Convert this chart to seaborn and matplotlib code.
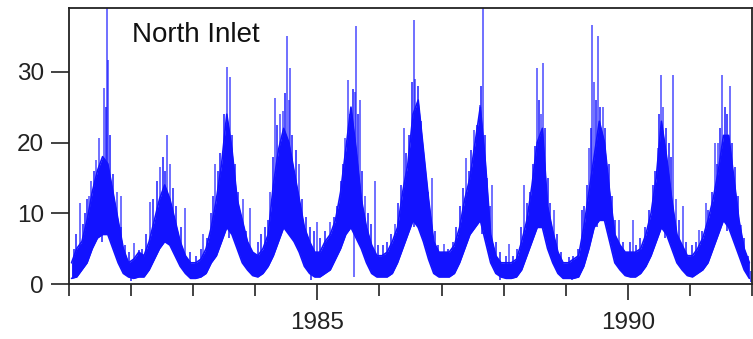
import numpy as np
import pandas as pd
import matplotlib
matplotlib.use("Agg")
import matplotlib.pyplot as plt
from matplotlib.ticker import MultipleLocator
import seaborn as sns

station = "North Inlet"
years = list(range(1981, 1992))

# monthly lower / upper envelope of the daily record (one row per year, Jan..Dec)
low = [
    0.8, 1.0, 2.0, 3.0, 5.0, 6.5, 7.0, 7.0, 5.0, 3.0, 1.5, 1.0,   # 1981
    0.8, 1.0, 1.0, 2.0, 3.5, 5.0, 6.0, 5.5, 4.0, 2.5, 1.5, 0.8,   # 1982
    0.8, 1.0, 1.5, 3.0, 4.0, 6.0, 8.0, 7.0, 5.0, 3.0, 2.0, 1.2,   # 1983
    1.0, 1.5, 2.5, 4.0, 6.0, 8.0, 7.0, 6.0, 4.5, 2.5, 1.5, 1.0,   # 1984
    1.0, 1.5, 2.0, 3.5, 5.0, 7.0, 8.0, 6.5, 5.0, 3.0, 1.5, 1.0,   # 1985
    1.0, 1.0, 1.5, 3.0, 5.0, 7.0, 9.0, 8.0, 6.0, 3.5, 1.5, 1.0,   # 1986
    1.0, 1.0, 1.5, 3.0, 5.0, 7.0, 8.0, 9.0, 6.0, 3.0, 1.5, 1.0,   # 1987
    0.8, 0.8, 1.0, 2.0, 4.0, 6.0, 8.0, 8.0, 5.0, 3.0, 1.5, 0.8,   # 1988
    0.8, 0.8, 1.0, 2.5, 5.0, 8.0, 9.0, 9.0, 6.0, 3.0, 2.0, 1.2,   # 1989
    1.0, 1.0, 1.5, 2.5, 4.0, 6.0, 8.0, 7.0, 5.0, 3.0, 2.0, 1.2,   # 1990
    1.0, 1.5, 2.0, 3.0, 5.0, 7.0, 9.0, 8.0, 6.0, 4.0, 2.0, 0.8,   # 1991
]
high = [
    3.0, 5.0, 6.0, 9.0, 13.0, 16.0, 18.0, 17.0, 13.0, 9.0, 5.0, 3.0,    # 1981
    3.5, 4.5, 4.0, 6.0, 9.0, 12.0, 14.0, 12.0, 9.0, 6.0, 4.0, 3.0,      # 1982
    3.0, 3.5, 5.0, 8.0, 12.0, 17.0, 24.0, 19.0, 12.0, 9.0, 6.0, 4.5,    # 1983
    4.0, 5.0, 7.0, 14.0, 19.0, 22.0, 20.0, 16.0, 12.0, 8.0, 6.0, 4.5,   # 1984
    4.5, 6.0, 7.0, 9.0, 13.0, 19.0, 25.0, 19.0, 12.0, 8.0, 5.5, 4.0,    # 1985
    4.0, 4.5, 6.0, 8.0, 13.0, 17.0, 24.0, 26.0, 19.0, 12.0, 6.0, 4.5,   # 1986
    4.5, 4.5, 5.5, 8.0, 12.0, 15.0, 20.0, 25.0, 17.0, 7.0, 4.0, 3.0,    # 1987
    3.0, 3.0, 3.5, 6.0, 9.0, 14.0, 20.0, 22.0, 11.0, 7.5, 4.5, 3.0,     # 1988
    3.0, 3.5, 4.0, 8.0, 13.0, 18.0, 23.0, 20.0, 13.0, 7.0, 5.5, 4.5,    # 1989
    4.5, 4.5, 5.0, 7.0, 10.0, 15.0, 23.0, 18.0, 12.0, 7.0, 5.5, 4.0,    # 1990
    4.0, 5.0, 6.5, 9.0, 12.0, 16.0, 21.0, 21.0, 15.0, 9.0, 5.0, 3.0,    # 1991
]

# isolated daily extremes standing well out of the band
spike_year = [
    1981.17, 1981.32, 1981.36, 1981.43, 1981.48, 1981.56, 1981.615, 1981.63, 1981.77, 1981.83,
    1982.05, 1982.30, 1982.47, 1982.58, 1982.63, 1982.875,
    1983.16, 1983.35, 1983.47, 1983.55, 1983.60, 1983.80, 1983.92,
    1984.24, 1984.32, 1984.40, 1984.45, 1984.51, 1984.54, 1984.56, 1984.70,
    1984.99, 1985.21, 1985.45, 1985.50, 1985.585, 1985.61, 1985.625, 1985.68, 1985.77, 1985.93,
    1986.25, 1986.39, 1986.55, 1986.58, 1986.84,
    1987.04, 1987.39, 1987.53, 1987.62, 1987.67, 1987.82,
    1988.09, 1988.33, 1988.54, 1988.60, 1988.64, 1988.81,
    1989.37, 1989.42, 1989.46, 1989.52, 1989.60, 1989.865,
    1990.08, 1990.48, 1990.54, 1990.57, 1990.735, 1990.78, 1990.89,
    1991.15, 1991.26, 1991.40, 1991.45, 1991.52, 1991.64, 1991.83,
]
spike_value = [
    11.4, 12.5, 14.5, 17.5, 20.6, 27.7, 40.0, 31.7, 13.0, 12.5,
    5.8, 11.6, 16.6, 21.0, 17.0, 10.7,
    7.0, 17.0, 14.6, 30.7, 29.3, 12.0, 10.7,
    13.0, 26.3, 24.0, 24.5, 35.0, 26.0, 30.5, 17.0,
    8.8, 8.8, 20.7, 28.8, 1.0, 27.2, 36.4, 26.0, 12.5, 14.5,
    8.5, 22.0, 37.3, 29.0, 15.0,
    5.6, 17.8, 21.8, 25.3, 40.0, 14.0,
    5.6, 14.0, 30.5, 24.0, 31.3, 10.5,
    19.2, 36.6, 28.6, 35.0, 25.0, 9.0,
    9.0, 19.2, 29.6, 25.0, 29.6, 12.0, 11.0,
    7.7, 11.5, 20.0, 20.0, 29.6, 28.0, 8.3,
]

# smaller day-to-day excursions just beyond the band edges
flicker_year = [
    1981.08, 1981.12, 1981.22, 1981.255, 1981.29, 1981.40, 1981.44, 1981.51, 1981.53, 1981.59,
    1981.66, 1981.71, 1981.845, 1981.90, 1981.96,
    1982.00, 1982.12, 1982.18, 1982.24, 1982.36, 1982.42, 1982.52, 1982.55, 1982.68, 1982.72,
    1982.80, 1982.95,
    1983.05, 1983.12, 1983.22, 1983.28, 1983.32, 1983.40, 1983.44, 1983.50, 1983.58, 1983.63,
    1983.67, 1983.72, 1983.85,
    1984.05, 1984.10, 1984.15, 1984.20, 1984.28, 1984.35, 1984.48, 1984.55, 1984.60, 1984.65,
    1984.76, 1984.82, 1984.88, 1984.90, 1984.94,
    1985.05, 1985.12, 1985.16, 1985.27, 1985.32, 1985.38, 1985.42, 1985.53, 1985.57, 1985.65,
    1985.72, 1985.82, 1985.87, 1985.97,
    1986.06, 1986.12, 1986.18, 1986.30, 1986.34, 1986.43, 1986.47, 1986.52, 1986.56, 1986.62,
    1986.67, 1986.72, 1986.78, 1986.90, 1986.95,
    1987.10, 1987.18, 1987.24, 1987.30, 1987.35, 1987.44, 1987.48, 1987.57, 1987.64, 1987.66,
    1987.70, 1987.74, 1987.78, 1987.88, 1987.94, 1987.95,
    1988.04, 1988.15, 1988.22, 1988.28, 1988.38, 1988.42, 1988.47, 1988.50, 1988.57, 1988.67,
    1988.71, 1988.75, 1988.86, 1988.92,
    1989.06, 1989.10, 1989.12, 1989.20, 1989.26, 1989.30, 1989.34, 1989.40, 1989.49, 1989.50,
    1989.56, 1989.64, 1989.70, 1989.74, 1989.80, 1989.92,
    1990.04, 1990.14, 1990.20, 1990.28, 1990.34, 1990.40, 1990.44, 1990.51, 1990.60, 1990.61,
    1990.66, 1990.70, 1990.83, 1990.94,
    1991.04, 1991.10, 1991.20, 1991.30, 1991.35, 1991.43, 1991.48, 1991.56, 1991.60, 1991.60,
    1991.68, 1991.72, 1991.77, 1991.88, 1991.94, 1991.99,
]
flicker_value = [
    5.0, 7.0, 8.5, 10.0, 12.0, 16.0, 15.0, 16.5, 6.0, 25.0,
    21.0, 15.5, 8.0, 5.5, 4.5,
    0.4, 4.8, 5.0, 7.0, 12.0, 14.5, 18.0, 16.0, 13.5, 11.0,
    8.0, 4.5,
    4.0, 5.0, 6.5, 10.0, 12.5, 16.0, 18.5, 24.0, 6.5, 21.0,
    17.0, 13.0, 7.5,
    6.0, 7.0, 8.0, 9.0, 18.0, 22.5, 27.0, 7.0, 21.0, 19.0,
    12.0, 9.5, 8.0, 0.6, 7.5,
    6.5, 7.5, 6.0, 9.5, 11.0, 14.5, 17.0, 24.0, 27.5, 24.0,
    16.0, 10.0, 8.5, 5.5,
    5.5, 6.0, 7.0, 11.5, 14.0, 18.5, 21.0, 28.5, 8.0, 28.0,
    23.0, 18.0, 13.0, 7.5, 5.5,
    5.0, 6.0, 8.0, 11.0, 13.5, 16.0, 19.0, 22.5, 28.0, 7.0,
    21.0, 15.0, 11.0, 6.0, 4.5, 0.5,
    4.0, 4.0, 5.0, 8.0, 11.5, 13.0, 17.0, 19.5, 26.0, 22.0,
    15.0, 11.5, 7.0, 4.5,
    3.8, 0.5, 4.0, 5.0, 10.5, 11.0, 14.0, 22.0, 26.0, 8.0,
    25.0, 22.0, 17.0, 12.5, 9.0, 6.0,
    6.0, 5.5, 6.5, 8.0, 10.5, 14.0, 16.0, 24.0, 6.5, 22.0,
    20.0, 18.0, 9.0, 6.0,
    5.5, 6.0, 7.5, 10.5, 13.0, 17.0, 22.0, 25.0, 24.0, 7.5,
    20.0, 16.5, 12.5, 6.5, 4.0, 0.3,
]

y_ticks = [0, 10, 20, 30]

sns.set_theme(style="ticks")
plt.rcParams["font.family"] = ["Liberation Sans", "DejaVu Sans"]

t = np.array([y + (m + 0.5) / 12 for y in years for m in range(12)])
df = pd.DataFrame({"t": t, "low": low, "high": high})
mid = (df["low"] + df["high"]) / 2

fig = plt.figure(figsize=(7.53, 3.39), dpi=100)
ax = fig.add_axes([0.0916, 0.1622, 0.907, 0.814])

blue = "#1212ff"
ax.fill_between(df["t"], df["low"], df["high"], color=blue, lw=0)
sns.lineplot(data=df, x="t", y="low", color=blue, lw=1.2, ax=ax)
sns.lineplot(data=df, x="t", y="high", color=blue, lw=1.2, ax=ax)

# excursions drawn from the middle of the band out to the recorded value
ax.vlines(flicker_year, np.interp(flicker_year, t, mid), flicker_value,
          color=blue, lw=1.4, alpha=0.75)
ax.vlines(spike_year, np.interp(spike_year, t, mid), spike_value,
          color=blue, lw=1.3, alpha=0.65)

ax.set_xlim(1981, 1992)
ax.set_ylim(0, 39)
ax.set_xlabel("")
ax.set_ylabel("")
ax.set_yticks(y_ticks)
ax.xaxis.set_major_locator(MultipleLocator(5))
ax.xaxis.set_minor_locator(MultipleLocator(1))
ax.xaxis.set_major_formatter(lambda v, pos: f"{int(round(v))}")

for side in ["left", "right", "top", "bottom"]:
    ax.spines[side].set_visible(True)
    ax.spines[side].set_color("#222222")
    ax.spines[side].set_linewidth(1.3)

ax.tick_params(axis="y", length=13, width=1.2, pad=5, labelsize=17.5, colors="#222222")
ax.tick_params(axis="x", which="major", length=11.5, width=1.2, pad=9, labelsize=17.5, colors="#222222")
ax.tick_params(axis="x", which="minor", length=8.6, width=1.2, colors="#222222")

ax.text(0.0925, 0.902, station, transform=ax.transAxes, fontsize=20,
        va="center", ha="left", color="#111111")

fig.savefig("out.png", dpi=100)
